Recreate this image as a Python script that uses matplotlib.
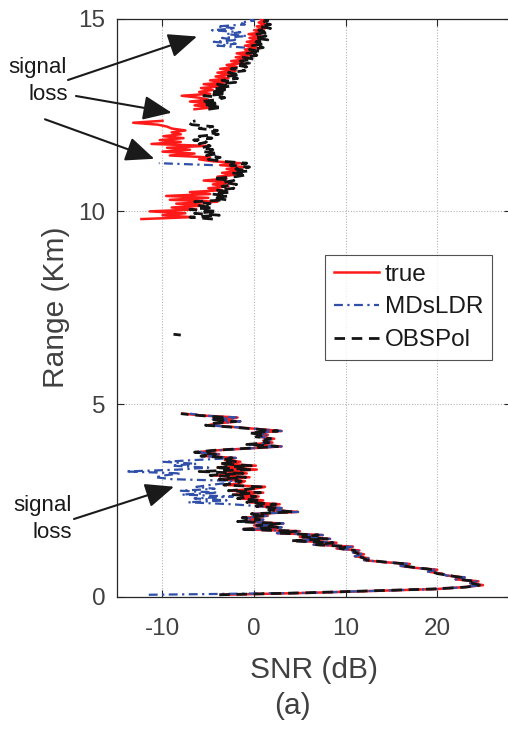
import numpy as np
import matplotlib
matplotlib.use("Agg")
import matplotlib.pyplot as plt

plt.rcParams['font.family'] = ['Liberation Sans', 'DejaVu Sans']
plt.rcParams['axes.unicode_minus'] = False

nan = np.nan

# ---------------- data ----------------
# lower segment: range grid 0.05 .. 4.75 km (step 0.05)
range_low = np.round(np.arange(0.05, 4.7501, 0.05), 2)
true_low = [
    -3.6, 6.0, 13.0, 20.0, 23.0, 25.0, 23.6, 24.5, 22.0, 23.0,
    21.0, 20.5, 19.0, 20.0, 17.5, 16.0, 17.0, 14.0, 12.0, 12.5,
    11.0, 12.0, 10.8, 11.5, 9.0, 10.8, 6.5, 9.0, 4.5, 8.3,
    5.0, 7.5, 2.5, 5.0, -1.2, 3.0, 0.0, 3.2, -1.5, 1.0,
    -1.0, 1.5, 0.0, 4.8, 2.0, 3.0, 0.5, 2.8, -0.5, 1.0,
    -1.5, 0.5, -2.0, 1.0, -2.5, 0.0, 1.2, -3.0, -1.5, -1.0,
    -3.5, -0.5, -4.5, -0.8, -3.0, 0.3, -4.0, 0.2, -3.5, -1.5,
    -3.2, -2.0, -5.5, -3.8, -6.2, -4.0, -0.5, 3.0, -0.5, 2.0,
    1.0, 2.2, 0.5, 1.5, -0.2, 3.0, 0.5, -2.0, -5.0, -4.0,
    -1.5, -4.5, -1.8, -5.5, -7.8]
mds_low = [
    -11.5, 6.0, 13.0, 20.0, 23.0, 24.8, 23.6, 24.5, 22.0, 23.0,
    21.0, 20.5, 19.0, 20.0, 17.5, 16.0, 17.0, 14.0, 12.0, 12.5,
    11.0, 12.0, 10.8, 11.5, 9.0, 10.8, 6.5, 9.0, 4.5, 8.3,
    5.0, 7.5, 2.5, 5.0, -1.2, 3.0, 0.0, 3.2, -1.5, 1.0,
    -1.0, 1.5, 0.0, 4.8, 2.0, 3.0, 0.5, -2.5, -7.2, -3.0,
    -6.5, -2.3, -7.9, -4.0, -8.0, -4.3, -6.3, -4.8, -3.0, -1.5,
    -9.0, -10.8, -9.7, -8.0, -14.0, -8.1, -5.0, -9.0, -6.3, -9.9,
    -6.2, -2.0, -5.5, -3.8, -6.2, -4.0, -0.5, 3.0, -0.5, 2.0,
    1.0, 2.2, 0.5, 1.5, -0.2, 3.0, 0.5, -2.0, -5.0, -4.0,
    -1.5, -4.5, -1.8, -5.5, -7.0]
obs_low = [
    -3.8, 5.5, 12.5, 19.5, 23.2, 24.6, 23.8, 24.2, 22.3, 22.6,
    21.3, 20.0, 19.4, 19.6, 17.8, 16.3, 16.6, 14.3, 12.3, 12.0,
    11.3, 11.6, 11.0, 11.0, 9.4, 10.2, 6.8, 8.6, 4.0, 8.0,
    5.3, 7.0, 2.8, 4.6, -1.5, 2.6, 0.3, 2.8, -1.8, 0.6,
    -1.3, 1.2, -0.3, 4.3, 1.6, 2.6, 0.2, 2.4, -0.8, 0.7,
    -1.8, 0.2, -2.3, 0.7, -2.8, -0.3, 0.8, -3.3, -1.8, -1.4,
    -3.8, -0.9, -4.8, -1.2, -6.0, -0.2, -4.3, -0.3, -3.8, -1.8,
    -3.5, -2.4, -5.8, -4.2, -6.5, -4.3, -0.8, 2.6, -0.8, 1.6,
    0.7, 1.8, 0.2, 1.2, -0.5, 2.6, 0.2, -2.4, -5.3, -4.4,
    -2.0, -4.8, -3.0, -5.8, -8.0]

# isolated OBSPol fragment
range_iso = [6.81, 6.79]
obs_iso = [-8.8, -8.0]

# upper segment: range grid 9.80 .. 15.00 km (step 0.05)
range_up = np.round(np.arange(9.80, 15.0001, 0.05), 2)
true_up = [
    -12.3, -6.8, -10.0, -7.5, -11.4, -6.3, -9.0, -5.5, -8.5, -4.0,
    -9.2, -5.0, -9.6, -4.8, -7.0, -3.5, -5.0, -2.8, -4.5, -2.5,
    -5.5, -3.0, -4.0, -2.0, -3.5, -1.5, -3.0, -1.0, -3.7, -1.5,
    -4.5, -6.0, -4.8, -9.2, -6.5, -10.0, -7.0, -9.5, -5.2, -11.2,
    -8.0, -10.3, -7.7, -9.9, -8.0, -9.0, -7.5, -9.0, -9.5, -10.5,
    -13.2, -10.0, nan, nan, nan, nan, nan, -6.5, -4.5, -6.5,
    -4.8, -7.0, -5.0, -6.0, -7.9, -4.8, -6.0, -4.5, -5.8, -3.5,
    -5.5, -3.0, -4.8, -2.8, -4.2, -2.6, -4.0, -2.0, -3.7, -1.9,
    -3.0, -1.2, -2.5, -0.8, -2.0, -0.3, -1.9, -0.2, -1.0, 0.3,
    -1.0, 0.5, -0.8, 0.6, -0.5, 0.7, -0.6, 1.0, 0.0, 1.2,
    0.3, 1.4, 0.5, 1.0, 0.7]
mds_up = [
    nan, nan, nan, nan, nan, nan, nan, nan, nan, nan,
    nan, nan, nan, nan, nan, nan, nan, nan, nan, nan,
    nan, nan, nan, nan, nan, nan, nan, nan, -4.5, -10.4,
    nan, nan, nan, nan, nan, nan, nan, nan, nan, nan,
    nan, nan, nan, nan, nan, nan, nan, nan, nan, nan,
    nan, nan, nan, nan, nan, nan, nan, nan, nan, nan,
    nan, nan, nan, nan, nan, nan, nan, nan, nan, nan,
    nan, nan, nan, nan, nan, nan, nan, nan, nan, nan,
    nan, nan, nan, nan, nan, nan, nan, nan, nan, -1.0,
    -4.0, -2.0, -4.4, -1.8, -3.5, -0.8, -3.0, -1.5, -4.6, -2.0,
    -4.0, -1.0, -1.5, 0.0, -0.5]
obs_up = [
    -4.5, -7.0, -3.8, -6.5, -4.0, -7.0, -4.5, -6.0, -4.8, -6.5,
    -3.0, -4.5, -2.8, -4.6, -2.5, -4.0, -2.2, -3.5, -1.9, -3.4,
    -2.2, -4.5, -2.0, -0.8, -2.5, -0.6, -2.0, -0.5, -2.6, -0.8,
    -3.5, -5.0, -3.7, -5.2, -3.9, -5.5, -4.5, -5.8, -4.8, -6.0,
    -5.2, -6.6, -4.6, -6.0, -3.9, -5.0, -4.0, -6.0, -4.5, -6.8,
    -7.2, -6.4, nan, nan, nan, nan, nan, -5.0, -3.5, -5.5,
    -3.8, -5.8, -4.0, -3.2, -5.5, -3.0, -4.8, -2.8, -4.4, -2.5,
    -4.0, -2.0, -3.5, -1.8, -3.0, -1.5, -2.8, -1.0, -2.5, -0.8,
    -2.0, -0.5, -1.5, 0.0, -1.2, 0.3, -0.8, 0.8, -0.5, 1.0,
    -0.2, 1.2, 0.2, 1.5, 0.0, 1.3, 0.3, 1.6, 0.5, 1.8,
    0.6, 1.8, 0.8, 1.5, 1.2]

series_labels = ['true', 'MDsLDR', 'OBSPol']
x_ticks = [-10, 0, 10, 20]
y_ticks = [0, 5, 10, 15]

# ---------------- figure ----------------
W, H = 508, 729
fig = plt.figure(figsize=(W / 100, H / 100), dpi=100)

def fx(px):
    return px / W

def fy(py):
    return 1 - py / H

ax_left, ax_right, ax_top, ax_bot = 116.7, 510.5, 18.7, 596.7
ax = fig.add_axes([fx(ax_left), fy(ax_bot), (ax_right - ax_left) / W, (ax_bot - ax_top) / H])

sep = [nan]
r_true = np.concatenate([range_low, sep, range_up])
v_true = np.concatenate([true_low, sep, true_up])
r_mds = np.concatenate([range_low, sep, range_up])
v_mds = np.concatenate([mds_low, sep, mds_up])
r_obs = np.concatenate([range_low, sep, range_iso, sep, range_up])
v_obs = np.concatenate([obs_low, sep, obs_iso, sep, obs_up])

ax.plot(v_true, r_true, color='#ff1a1a', lw=1.8, label=series_labels[0], zorder=3)
ax.plot(v_mds, r_mds, color='#2f4fa8', lw=1.6, dashes=(4, 2, 1, 2), label=series_labels[1], zorder=4)
ax.plot(v_obs, r_obs, color='#141414', lw=2.0, dashes=(3.8, 2.4), label=series_labels[2], zorder=5)

ax.set_xlim(-15, 28)
ax.set_ylim(0, 15)
ax.set_xticks(x_ticks)
ax.set_yticks(y_ticks)
ax.grid(True, linestyle=(0, (1, 1.5)), color='#b5b5b5', lw=0.8, zorder=0)
ax.set_axisbelow(True)
ax.tick_params(direction='in', length=5, width=0.8, top=True, right=True,
               colors='#262626', labelcolor='#404040', labelsize=17.5)
ax.tick_params(axis='x', pad=15)
ax.tick_params(axis='y', pad=8)
for s in ax.spines.values():
    s.set_color('#262626')
    s.set_linewidth(0.9)

ax.set_xlabel('SNR (dB)', fontsize=21.5, color='#404040')
ax.xaxis.label.set_verticalalignment('baseline')
ax.xaxis.set_label_coords(0.5, (ax_bot - 678.3) / (ax_bot - ax_top))
ax.set_ylabel('Range (Km)', fontsize=21.5, color='#404040')
ax.yaxis.set_label_coords((70.5 - ax_left) / (ax_right - ax_left), 0.5)

fig.text(fx(292.5), fy(714.5), '(a)', fontsize=21.5, color='#404040', ha='center', va='baseline')

leg = ax.legend(loc='upper right', bbox_to_anchor=(fx(491.7), fy(255)),
                bbox_transform=fig.transFigure, fontsize=17.5, frameon=True,
                fancybox=False, borderaxespad=0, handlelength=1.85,
                handletextpad=0.25, labelspacing=0.45, borderpad=0.35)
leg.get_frame().set_edgecolor('#262626')
leg.get_frame().set_linewidth(0.8)
for t in leg.get_texts():
    t.set_color('#1a1a1a')

# annotations
txt_kw = dict(fontsize=16, color='#1a1a1a', ha='center', va='center')
fig.text(fx(37.5), fy(68), 'signal', **txt_kw)
fig.text(fx(48), fy(95), 'loss', **txt_kw)
fig.text(fx(43), fy(506), 'signal', **txt_kw)
fig.text(fx(52.5), fy(532), 'loss', **txt_kw)

arrows = [((68, 80), (197, 36.5)), ((76, 96), (171.7, 112.7)),
          ((45, 119.3), (154.3, 158.8)), ((74, 519), (174, 486.7))]
for (sx, sy), (tx, ty) in arrows:
    fig.patches.append(matplotlib.patches.FancyArrowPatch(
        (fx(sx), fy(sy)), (fx(tx), fy(ty)), transform=fig.transFigure,
        arrowstyle='-|>,head_length=0.8,head_width=0.34', mutation_scale=22,
        color='#1a1a1a', lw=1.5, shrinkA=0, shrinkB=0, zorder=10))

fig.savefig('out.png', dpi=100)
